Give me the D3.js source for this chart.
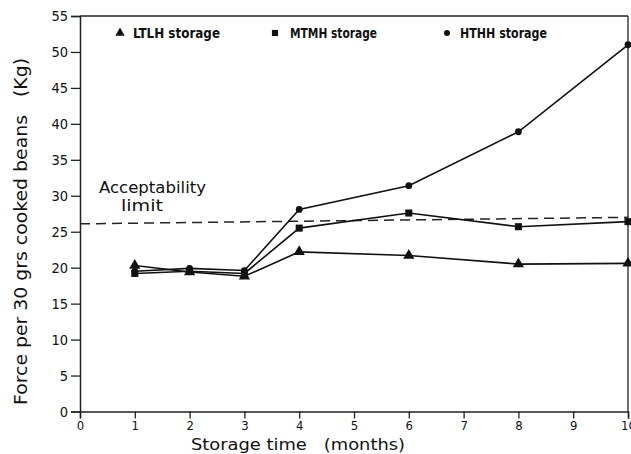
<!DOCTYPE html>
<html><head><meta charset="utf-8">
<script src="https://cdn.jsdelivr.net/npm/d3@7"></script>
<style>
body{margin:0;background:#fff;}
svg{display:block;}
text{fill:#111;}
</style></head>
<body>
<svg id="c" width="631" height="454"></svg>
<script>
const months = [1, 2, 3, 4, 6, 8, 10];
const ltlh = [20.3, 19.4, 18.8, 22.2, 21.7, 20.5, 20.6];
const mtmh = [19.2, 19.5, 19.2, 25.5, 27.6, 25.7, 26.4];
const hthh = [19.5, 19.9, 19.6, 28.1, 31.4, 38.9, 51.0];
const limitX = [0, 10];
const limitY = [26.1, 27.0];
const xTicks = [0,1,2,3,4,5,6,7,8,9,10];
const yTicks = [0,5,10,15,20,25,30,35,40,45,50,55];
const legendLabels = ["LTLH storage", "MTMH storage", "HTHH storage"];

const svg = d3.select("#c");
const x = d3.scaleLinear().domain([0,10]).range([80, 628]);
const y = d3.scaleLinear().domain([0,55]).range([411.5, 16]);
const cf = "'DejaVu Sans Condensed','DejaVu Sans',sans-serif";

// frame top and right
svg.append("line").attr("x1",x(0)).attr("x2",x(10)).attr("y1",y(55)).attr("y2",y(55)).attr("stroke","#222").attr("stroke-width",1.3);
svg.append("line").attr("x1",x(10)).attr("x2",x(10)).attr("y1",y(55)).attr("y2",y(0)).attr("stroke","#222").attr("stroke-width",1.3);

// axes
const xAxis = svg.append("g").attr("transform",`translate(0,${y(0)})`)
  .call(d3.axisBottom(x).tickValues(xTicks).tickSize(7).tickPadding(2).tickFormat(d3.format("d")));
const yAxis = svg.append("g").attr("transform",`translate(${x(0)},0)`)
  .call(d3.axisLeft(y).tickValues(yTicks).tickSize(9).tickPadding(3).tickFormat(d3.format("d")));
[xAxis,yAxis].forEach(g=>{
  g.select(".domain").attr("stroke","#222").attr("stroke-width",1.5);
  g.selectAll(".tick line").attr("stroke","#222").attr("stroke-width",1.3);
  g.selectAll(".tick text").attr("font-family",cf).attr("font-size",14.5).attr("fill","#111");
});
xAxis.selectAll(".tick text").attr("font-size",13);

// dashed acceptability line
svg.append("line").attr("x1",x(limitX[0])).attr("x2",x(limitX[1])).attr("y1",y(limitY[0])).attr("y2",y(limitY[1]))
  .attr("stroke","#222").attr("stroke-width",1.5).attr("stroke-dasharray","10,6");

svg.append("text").attr("x",99).attr("y",192.5).attr("font-family","'DejaVu Sans',sans-serif").attr("font-size",15)
  .attr("textLength",107).attr("lengthAdjust","spacingAndGlyphs").text("Acceptability");
svg.append("text").attr("x",121).attr("y",210.5).attr("font-family","'DejaVu Sans',sans-serif").attr("font-size",15)
  .attr("textLength",42).attr("lengthAdjust","spacingAndGlyphs").text("limit");

// series
const series = [
  {vals: ltlh, shape: "tri"},
  {vals: mtmh, shape: "sq"},
  {vals: hthh, shape: "circ"}
];
const line = d3.line().x(d=>x(d[0])).y(d=>y(d[1]));
function marker(g, shape, cx, cy, s){
  if(shape==="tri"){
    g.append("path").attr("d",d3.symbol().type(d3.symbolTriangle).size(s||55)()).attr("transform",`translate(${cx},${cy})`).attr("fill","#111");
  } else if(shape==="sq"){
    g.append("path").attr("d",d3.symbol().type(d3.symbolSquare).size(s||50)()).attr("transform",`translate(${cx},${cy})`).attr("fill","#111");
  } else {
    g.append("circle").attr("cx",cx).attr("cy",cy).attr("r",s?Math.sqrt(s/Math.PI):3.4).attr("fill","#111");
  }
}
series.forEach(s=>{
  const pts = months.map((m,i)=>[m,s.vals[i]]);
  svg.append("path").attr("d",line(pts)).attr("fill","none").attr("stroke","#111").attr("stroke-width",1.6);
  const g = svg.append("g");
  pts.forEach(p=>marker(g,s.shape,x(p[0]),y(p[1])));
});

// legend
const legX = [120, 275, 447];
const legTX = [133, 290, 460];
const legShapes = ["tri","sq","circ"];
legendLabels.forEach((l,i)=>{
  marker(svg, legShapes[i], legX[i], 33, legShapes[i]==="circ"?28:38);
  svg.append("text").attr("x",legTX[i]).attr("y",38).attr("font-family",cf).attr("font-size",14).attr("font-weight","bold")
    .attr("textLength",87).attr("lengthAdjust","spacingAndGlyphs").text(l);
});

// axis titles
svg.append("text").attr("x",191).attr("y",449.5).attr("font-family","'DejaVu Sans',sans-serif").attr("font-size",16)
  .attr("textLength",214).attr("lengthAdjust","spacingAndGlyphs").attr("xml:space","preserve").text("Storage time   (months)");
svg.append("text").attr("transform","translate(27,405) rotate(-90)").attr("font-family","'DejaVu Sans',sans-serif").attr("font-size",18)
  .attr("textLength",347).attr("lengthAdjust","spacingAndGlyphs").attr("xml:space","preserve").text("Force per 30 grs cooked beans   (Kg)");
</script>
</body></html>
